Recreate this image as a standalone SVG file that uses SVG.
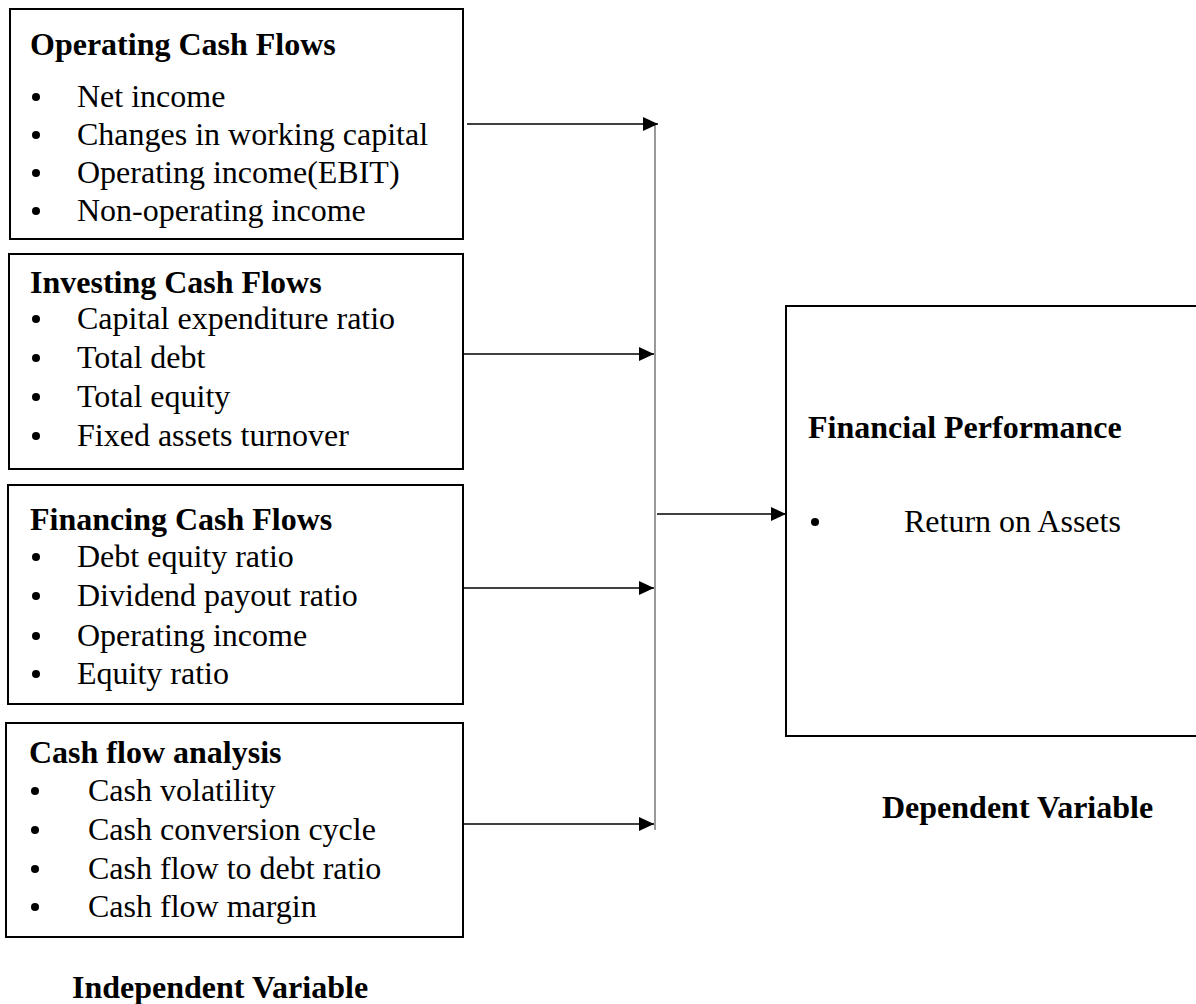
<svg xmlns="http://www.w3.org/2000/svg" width="1196" height="1004" viewBox="0 0 1196 1004">
<style>
.box{fill:#fff;stroke:#000;stroke-width:2}
.t{font-family:"Liberation Serif","Times New Roman",serif;font-size:32px;fill:#000}
.b{font-weight:bold}
.dot{fill:#000}
.con{stroke:#000;stroke-width:1.6;fill:none}
.bus{stroke:#555;stroke-width:1.2;fill:none}
</style>
<defs>
<marker id="ah" markerUnits="userSpaceOnUse" markerWidth="16" markerHeight="15" refX="15" refY="7" orient="auto">
<path d="M0,0 L15,7 L0,14 z" fill="#000"/>
</marker>
</defs>
<rect x="0" y="0" width="1196" height="1004" fill="#fff"/>

<g id="operating">
<rect class="box" x="10" y="9" width="453" height="230"/>
<text class="t b" x="30" y="55">Operating Cash Flows</text>
<circle class="dot" cx="36" cy="97" r="4"/><text class="t" x="77" y="107">Net income</text>
<circle class="dot" cx="36" cy="135" r="4"/><text class="t" x="77" y="145">Changes in working capital</text>
<circle class="dot" cx="36" cy="173" r="4"/><text class="t" x="77" y="183">Operating income(EBIT)</text>
<circle class="dot" cx="36" cy="211" r="4"/><text class="t" x="77" y="221">Non-operating income</text>
</g>

<g id="investing">
<rect class="box" x="9" y="254" width="454" height="215"/>
<text class="t b" x="30" y="293">Investing Cash Flows</text>
<circle class="dot" cx="36" cy="319" r="4"/><text class="t" x="77" y="329">Capital expenditure ratio</text>
<circle class="dot" cx="36" cy="358" r="4"/><text class="t" x="77" y="368">Total debt</text>
<circle class="dot" cx="36" cy="397" r="4"/><text class="t" x="77" y="407">Total equity</text>
<circle class="dot" cx="36" cy="436" r="4"/><text class="t" x="77" y="446">Fixed assets turnover</text>
</g>

<g id="financing">
<rect class="box" x="8" y="485" width="455" height="219"/>
<text class="t b" x="30" y="530">Financing Cash Flows</text>
<circle class="dot" cx="36" cy="557" r="4"/><text class="t" x="77" y="567">Debt equity ratio</text>
<circle class="dot" cx="36" cy="596" r="4"/><text class="t" x="77" y="606">Dividend payout ratio</text>
<circle class="dot" cx="36" cy="636" r="4"/><text class="t" x="77" y="646">Operating income</text>
<circle class="dot" cx="36" cy="674" r="4"/><text class="t" x="77" y="684">Equity ratio</text>
</g>

<g id="cashflow">
<rect class="box" x="6" y="723" width="457" height="214"/>
<text class="t b" x="29" y="763">Cash flow analysis</text>
<circle class="dot" cx="35" cy="791" r="4"/><text class="t" x="88" y="801">Cash volatility</text>
<circle class="dot" cx="35" cy="830" r="4"/><text class="t" x="88" y="840">Cash conversion cycle</text>
<circle class="dot" cx="35" cy="869" r="4"/><text class="t" x="88" y="879">Cash flow to debt ratio</text>
<circle class="dot" cx="35" cy="907" r="4"/><text class="t" x="88" y="917">Cash flow margin</text>
</g>

<g id="performance">
<rect class="box" x="786" y="306" width="420" height="430"/>
<text class="t b" x="808" y="438">Financial Performance</text>
<circle class="dot" cx="815" cy="522" r="4"/><text class="t" x="904" y="532">Return on Assets</text>
</g>

<g id="labels">
<text class="t b" x="72" y="998">Independent Variable</text>
<text class="t b" x="882" y="818">Dependent Variable</text>
</g>

<g id="connectors">
<line class="bus" x1="655" y1="125" x2="655" y2="830"/>
<line class="con" x1="467" y1="124" x2="658" y2="124" marker-end="url(#ah)"/>
<line class="con" x1="463" y1="354" x2="654" y2="354" marker-end="url(#ah)"/>
<line class="con" x1="463" y1="588" x2="654" y2="588" marker-end="url(#ah)"/>
<line class="con" x1="462" y1="824" x2="654" y2="824" marker-end="url(#ah)"/>
<line class="con" x1="657" y1="514" x2="786" y2="514" marker-end="url(#ah)"/>
</g>
</svg>
